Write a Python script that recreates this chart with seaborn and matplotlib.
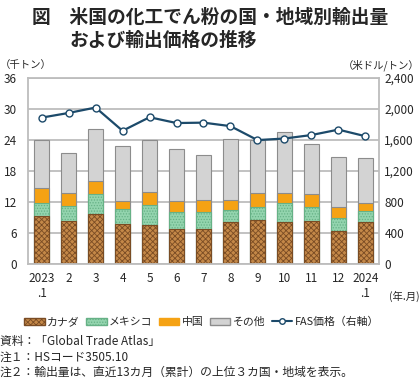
import numpy as np
import pandas as pd
import seaborn as sns
import matplotlib.pyplot as plt
from matplotlib.patches import Patch
from matplotlib.lines import Line2D

sns.set_style('white')
plt.rcParams['font.family'] = ['Noto Sans CJK JP', 'DejaVu Sans']
plt.rcParams['hatch.linewidth'] = 0.6

# data (thousand tons, USD/ton)
months = ['2023\n.1', '2', '3', '4', '5', '6', '7', '8', '9', '10', '11', '12', '2024\n.1']
canada = [9.3, 8.4, 9.6, 7.7, 7.6, 6.8, 6.8, 8.1, 8.5, 8.2, 8.3, 6.3, 8.2]
mexico = [2.5, 2.9, 3.9, 3.0, 3.9, 3.3, 3.3, 2.4, 2.6, 3.6, 2.7, 2.7, 2.1]
china = [2.9, 2.4, 2.5, 1.6, 2.5, 2.1, 2.3, 1.9, 2.7, 1.9, 2.6, 2.1, 1.5]
others = [9.3, 7.8, 10.2, 10.6, 10.0, 10.0, 8.7, 11.9, 10.2, 11.9, 9.7, 9.7, 8.7]
fas_price = [1890, 1950, 2020, 1720, 1895, 1820, 1825, 1780, 1600, 1620, 1665, 1735, 1650]

df = pd.DataFrame({'month': months, 'canada': canada, 'mexico': mexico,
                   'china': china, 'others': others, 'price': fas_price})
df['c1'] = df['canada']
df['c2'] = df['c1'] + df['mexico']
df['c3'] = df['c2'] + df['china']
df['c4'] = df['c3'] + df['others']

fig = plt.figure(figsize=(4.2, 3.81), dpi=100)
ax = fig.add_axes([0.067, 0.307, 0.835, 0.488])

# stacked bars: draw cumulative totals from top to bottom
layers = [('c4', '#d3d3d3', '#8c8c8c', None),
          ('c3', '#f5a214', '#8c8c8c', None),
          ('c2', '#93d4ae', '#66b186', '......'),
          ('c1', '#c48848', '#7a4c24', 'xxxxxx')]
for col, fc, ec, hatch in layers:
    n0 = len(ax.patches)
    sns.barplot(data=df, x='month', y=col, color=fc, saturation=1, width=0.56,
                edgecolor=ec, linewidth=0.8, ax=ax)
    if hatch:
        for p in ax.patches[n0:]:
            p.set_hatch(hatch)

ax.set_ylim(0, 36)
ax.set_yticks(np.arange(0, 37, 6))
ax.set_xlim(-0.5, 12.5)
ax.set_xlabel('')
ax.set_ylabel('')
ax.yaxis.grid(True, color='#bdbdbd', linewidth=1.3)
ax.set_axisbelow(True)
for s in ax.spines.values():
    s.set_color('#bdbdbd')
    s.set_linewidth(1.3)
ax.tick_params(axis='y', length=0, labelsize=8.5, pad=8)
ax.tick_params(axis='x', which='major', length=0, labelsize=8.5, pad=6)
ax.set_xticks(np.arange(-0.5, 13, 1), minor=True)
ax.tick_params(axis='x', which='minor', length=4, color='#999999', direction='out')

ax2 = ax.twinx()
sns.lineplot(x=np.arange(len(months)), y=df['price'], ax=ax2, color='#1c4a6a',
             linewidth=1.6, marker='o', markersize=5, markerfacecolor='white',
             markeredgecolor='#1c4a6a', markeredgewidth=1.0)
ax2.set_ylim(0, 2400)
ax2.set_yticks(np.arange(0, 2401, 400))
ax2.set_yticklabels([f'{v:,}' for v in range(0, 2401, 400)])
ax2.set_ylabel('')
ax2.tick_params(axis='y', length=0, labelsize=8.5, pad=4)
for s in ax2.spines.values():
    s.set_visible(False)

# titles and labels
fig.text(0.075, 0.955, '図　米国の化工でん粉の国・地域別輸出量', fontsize=13.5, fontweight='bold', va='center')
fig.text(0.165, 0.895, 'および輸出価格の推移', fontsize=13.5, fontweight='bold', va='center')
fig.text(0.0, 0.83, '（千トン）', fontsize=7.5, va='center')
fig.text(1.0, 0.83, '（米ドル/トン）', fontsize=7.5, va='center', ha='right')
fig.text(0.925, 0.222, '(年.月)', fontsize=7.5, va='center')

handles = [Patch(facecolor='#c48848', edgecolor='#7a4c24', hatch='xxxxxx', label='カナダ'),
           Patch(facecolor='#93d4ae', edgecolor='#66b186', hatch='......', label='メキシコ'),
           Patch(facecolor='#f5a214', edgecolor='#f5a214', label='中国'),
           Patch(facecolor='#d3d3d3', edgecolor='#8c8c8c', label='その他'),
           Line2D([0], [0], color='#1c4a6a', marker='o', markerfacecolor='white',
                  markersize=4, label='FAS価格（右軸）')]
fig.legend(handles=handles, loc='center', bbox_to_anchor=(0.48, 0.155), ncol=5,
           frameon=False, fontsize=7.8, handlelength=1.9, handleheight=0.6,
           handletextpad=0.2, columnspacing=0.6)

fig.text(0.0, 0.103, '資料：「Global Trade Atlas」', fontsize=8.5, va='center')
fig.text(0.0, 0.063, '注１：HSコード3505.10', fontsize=8.5, va='center')
fig.text(0.0, 0.023, '注２：輸出量は、直近13カ月（累計）の上位３カ国・地域を表示。', fontsize=8.5, va='center')

fig.savefig('out.png', dpi=100)
